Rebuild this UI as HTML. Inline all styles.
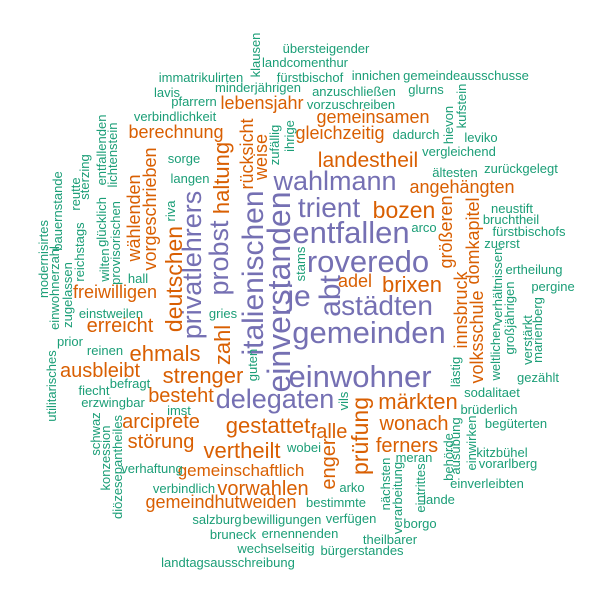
<!DOCTYPE html>
<html><head><meta charset="utf-8"><style>
html,body{margin:0;padding:0;background:#fff;}
svg text{font-family:"Liberation Sans",Arial,sans-serif;}
</style></head><body>
<svg id="cloud" width="600" height="600" viewBox="0 0 600 600" xmlns="http://www.w3.org/2000/svg"></svg>
<script>
// word data
const words = ["einverstanden","einwohner","gemeinden","entfallen","roveredo","abt","je","wahlmann","italienischen","städten","delegaten","trient","privatlehrers","probst",
"landestheil","bozen","brixen","adel","märkten","prüfung","strenger","gestattet","vertheilt","deutschen","zahl","haltung","ehmals","rücksicht","weise","lebensjahr","berechnung","wählenden","vorgeschrieben","freiwilligen","gemeinsamen","gleichzeitig","angehängten","größeren","domkapitel","innsbruck","volksschule","wonach","ferners","falle","enger","besteht","ausbleibt","erreicht","arciprete","störung","gemeinschaftlich","vorwahlen","gemeindhutweiden",
"klausen","übersteigender","landcomenthur","fürstbischof","immatrikulirten","minderjährigen","lavis","pfarrern","verbindlichkeit","zufällig","ihrige","sorge","langen","entfallenden","lichtenstein","sterzing","reutte","bauernstande","modernisirtes","einwohnerzahl","zugelassen","reichstags","glücklich","wilten","provisorischen","hall","riva","stams","gries","guten","vils","lästig","weltlichen","verhältnissen","großjährigen","verstärkt","marienberg","gezählt","sodalitaet","brüderlich","begüterten","behörde","ausübung","einwirken","kitzbühel","vorarlberg","einverleibten","meran","nächsten","verarbeitung","eintrittes","lande","borgo","arko","bestimmte","verfügen","theilbarer","bürgerstandes","ernennenden","bewilligungen","wechselseitig","salzburg","bruneck","landtagsausschreibung","verbindlich","verhaftung","wobei","imst","erzwingbar","fiecht","befragt","reinen","prior","einstweilen","utilitarisches","schwaz","konzession","diözesepantheiles","vorzuschreiben","anzuschließen","glurns","innichen","gemeindeausschusse","dadurch","hievon","kufstein","leviko","vergleichend","zurückgelegt","ältesten","neustift","bruchtheil","fürstbischofs","zuerst","ertheilung","pergine","arco"];
// frequency tier per word (0 = highest, purple; 1 = orange; 2 = teal); words beyond list are teal
const tiers = [0,0,0,0,0,0,0,0,0,0,0,0,0,0,
1,1,1,1,1,1,1,1,1,1,1,1,1,1,1,1,1,1,1,1,1,1,1,1,1,1,1,1,1,1,1,1,1,1,1,1,1,1,1];
// relative weight -> font size (remaining words are size 13)
const weights = [32,31,31,31,31,30,30,27,30,28,27,28,27,27,
21,23,22,18,22,23,22,22,22,23,22,22,22,18,18,18,18,18,18,18,18,18,18,18,18,18,18,20,20,20,20,20,20,20,20,20,17,20,18];
// layout (x, y, vertical flag) from word cloud placement
const layoutX = [290,360,369,351,368,340,299,335,263,387,275,329,201,228,
368,404,412,355,418,368,203,268,242,182,230,229,165,253,267,262,176,140,156,115,373,340,462,452,479,467,483,414,407,329,335,181,100,120,161,161,241,263,221,
260,326,305,310,201,258,167,194,175,279,294,184,190,106,117,89,80,62,48,59,72,84,106,109,120,138,175,305,223,257,348,460,500,502,514,532,542,538,492,489,516,453,460,476,502,508,487,414,390,402,425,439,420,352,336,351,390,362,300,282,276,217,233,228,184,152,304,179,113,94,130,105,70,111,56,100,110,122,351,354,426,376,466,416,453,466,481,459,521,455,512,511,529,502,534,553,424];
const layoutY = [292,387,343,243,272,296,306,190,273,315,408,217,265,258,
167,218,292,287,409,436,383,433,458,279,345,178,361,154,157,109,138,218,209,298,123,139,193,232,241,310,337,430,452,438,464,402,377,332,428,448,476,495,508,
55,53,67,82,82,92,97,106,121,145,136,163,183,150,155,177,194,211,259,288,295,252,222,265,243,283,211,264,318,365,401,372,352,286,318,340,330,382,397,414,428,457,446,443,457,468,488,462,484,498,488,504,528,492,507,523,544,555,538,524,553,524,539,567,493,473,452,415,407,395,388,355,346,318,386,434,458,467,109,96,94,80,80,139,125,106,142,156,173,177,213,224,236,248,274,291,232];
const vertical = [1,0,0,0,0,1,0,0,1,0,0,0,1,1,
0,0,0,0,0,1,0,0,0,1,1,1,0,1,1,0,0,1,1,0,0,0,0,1,1,1,1,0,0,0,1,0,0,0,0,0,0,0,0,
1,0,0,0,0,0,0,0,0,1,1,0,0,1,1,1,1,1,1,1,1,1,1,1,1,0,1,1,0,1,1,1,1,1,1,1,1,0,0,0,0,1,1,1,0,0,0,0,1,1,1,0,0,0,0,0,0,0,0,0,0,0,0,0,0,0,0,0,0,0,0,0,0,0,1,1,1,1,0,0,0,0,0,0,1,1,0,0,0,0,0,0,0,0,0,0,0];
const palette = ["#7570B3","#D95F02","#1B9E77"];

const svg = document.getElementById('cloud');
const NS = 'http://www.w3.org/2000/svg';
for (let i = 0; i < words.length; i++) {
  const t = document.createElementNS(NS, 'text');
  const size = i < weights.length ? weights[i] : 13;
  const tier = i < tiers.length ? tiers[i] : 2;
  t.setAttribute('font-size', size);
  t.setAttribute('fill', palette[tier]);
  t.setAttribute('text-anchor', 'middle');
  if (vertical[i]) {
    t.setAttribute('transform', 'translate(' + layoutX[i] + ',' + layoutY[i] + ') rotate(-90)');
    t.setAttribute('x', 0);
    t.setAttribute('y', 0);
  } else {
    t.setAttribute('x', layoutX[i]);
    t.setAttribute('y', layoutY[i]);
  }
  t.textContent = words[i];
  
  
  svg.appendChild(t);
}
</script>
</body></html>
